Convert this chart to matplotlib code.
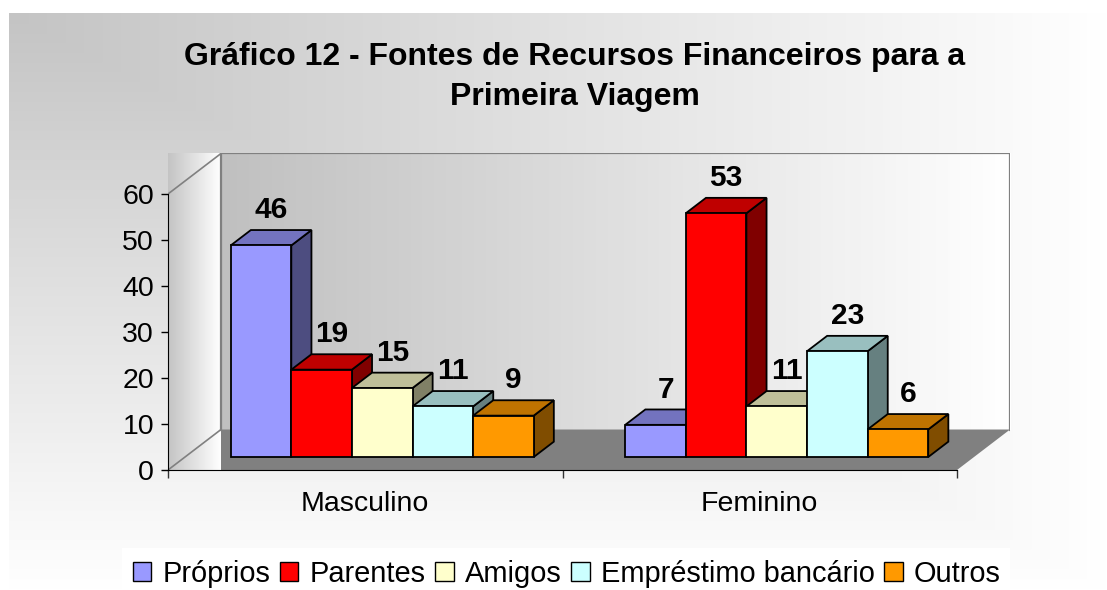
import numpy as np
import matplotlib
matplotlib.use("Agg")
import matplotlib.pyplot as plt
from matplotlib.patches import Polygon, Rectangle, Patch

plt.rcParams['font.family'] = ['Liberation Sans', 'DejaVu Sans']

# data
categories = ["Masculino", "Feminino"]
series = ["Próprios", "Parentes", "Amigos", "Empréstimo bancário", "Outros"]
masculino = [46, 19, 15, 11, 9]
feminino = [7, 53, 11, 23, 6]
colors = ["#9999FF", "#FF0000", "#FFFFCC", "#CCFFFF", "#FF9900"]
yticks = [0, 10, 20, 30, 40, 50, 60]
title = "Gráfico 12 - Fontes de Recursos Financeiros para a\nPrimeira Viagem"

W, H = 1107, 590
fig = plt.figure(figsize=(W / 100, H / 100), dpi=100)

# background: "from corner" gradient, grey top-left to white
bg = fig.add_axes([9 / W, 0, 1 - 9 / W, (H - 13) / H], zorder=-10)
ny, nx = 300, 600
u = np.linspace(0, 1, nx)[None, :]
v = np.linspace(0, 1, ny)[:, None]
t = np.clip(np.maximum(u, v), 0, 1)
g = (196 + 59 * t) / 255
bg.imshow(np.dstack([g, g, g]), aspect='auto', extent=[0, 1, 0, 1])
bg.set_axis_off()

# legend box
fig.add_artist(Rectangle((122 / W, 0), 888 / W, 42 / H, transform=fig.transFigure,
                         facecolor='white', edgecolor='none', zorder=1))

# 3d-ish plot area
DX, DY = 0.1343, 8.8
d0, d1 = 0.32, 0.70
ax = fig.add_axes([168 / W, 120 / H, 842 / W, 316.5 / H])
ax.patch.set_visible(False)


def proj(x, y, d):
    return (x + d * DX, y + d * DY)


# back wall gradient
grad = np.linspace(192, 255, 200) / 255
ax.imshow(np.dstack([grad, grad, grad]), aspect='auto',
          extent=[DX, 2 + DX, DY, 60 + DY], zorder=0)
# floor
ax.add_patch(Polygon([proj(0, 0, 0), proj(2, 0, 0), proj(2, 0, 1), proj(0, 0, 1)],
                     closed=True, facecolor='#808080', edgecolor='none', zorder=1))
# side wall gradient
sg = np.linspace(196, 255, 50) / 255
ax.imshow(np.dstack([sg, sg, sg]), aspect='auto',
          extent=[0, DX, 0, 60 + DY], zorder=2)
ax.set_xlim(0, 2 + DX)
ax.set_ylim(0, 60 + DY)
# wall borders
lc = '#808080'
ax.plot([DX, DX, 2 + DX, 2 + DX], [DY, 60 + DY, 60 + DY, DY], color=lc, lw=1.6, zorder=3)
ax.plot(*zip(proj(0, 60, 0), proj(0, 60, 1)), color=lc, lw=1.2, zorder=3)
ax.plot(*zip(proj(0, 0, 0), proj(0, 0, 1)), color=lc, lw=1.2, zorder=3)

# bars
w = 0.1536
z = 10
for gi, vals in enumerate([masculino, feminino]):
    for i, val in enumerate(vals):
        x0 = gi + 0.5 - 2.5 * w + i * w
        x1 = x0 + w
        c = np.array(matplotlib.colors.to_rgb(colors[i]))
        side = [proj(x1, 0, d0), proj(x1, val, d0), proj(x1, val, d1), proj(x1, 0, d1)]
        top = [proj(x0, val, d0), proj(x1, val, d0), proj(x1, val, d1), proj(x0, val, d1)]
        front = [proj(x0, 0, d0), proj(x1, 0, d0), proj(x1, val, d0), proj(x0, val, d0)]
        ax.add_patch(Polygon(side, closed=True, facecolor=c * 0.5, edgecolor='black',
                             lw=1.3, joinstyle='miter', zorder=z))
        ax.add_patch(Polygon(top, closed=True, facecolor=c * 0.75, edgecolor='black',
                             lw=1.3, joinstyle='miter', zorder=z + 1))
        ax.add_patch(Polygon(front, closed=True, facecolor=c, edgecolor='black',
                             lw=1.3, joinstyle='miter', zorder=z + 2))
        lx, ly = proj(x0 + w / 2, val, (d0 + d1) / 2)
        ax.text(lx, ly + 6, str(val), ha='center', va='center', fontsize=21.5,
                fontweight='bold', zorder=100)
        z += 3

# axes lines and ticks
for s in ['top', 'right']:
    ax.spines[s].set_visible(False)
ax.spines['left'].set_bounds(0, 60)
ax.spines['bottom'].set_bounds(0, 2)
ax.spines['left'].set_zorder(4)
ax.spines['bottom'].set_zorder(4)
ax.set_yticks(yticks)
ax.set_xticks([0, 1, 2])
ax.set_xticklabels([])
ax.set_xticks([0.5, 1.5], minor=True)
ax.set_xticklabels(categories, minor=True)
ax.tick_params(axis='y', direction='out', length=5, width=1, labelsize=20.5, pad=5)
ax.tick_params(axis='x', which='major', direction='out', length=6, width=1, color='#333333')
ax.tick_params(axis='x', which='minor', length=0, labelsize=20.5, pad=15)

fig.text(575 / W, 1 - 77 / H, title, ha='center', va='center', fontsize=23,
         fontweight='bold', linespacing=1.45)

handles = [Patch(facecolor=c, edgecolor='black', lw=1) for c in colors]
leg = fig.legend(handles, series, loc='center', bbox_to_anchor=(567 / W, 1 - 574 / H),
                 ncol=5, frameon=False, fontsize=20.9, handlelength=0.63, handleheight=0.63,
                 handletextpad=0.39, columnspacing=0.33, borderpad=0)
leg.set_zorder(5)

fig.savefig("out.png", dpi=100)
